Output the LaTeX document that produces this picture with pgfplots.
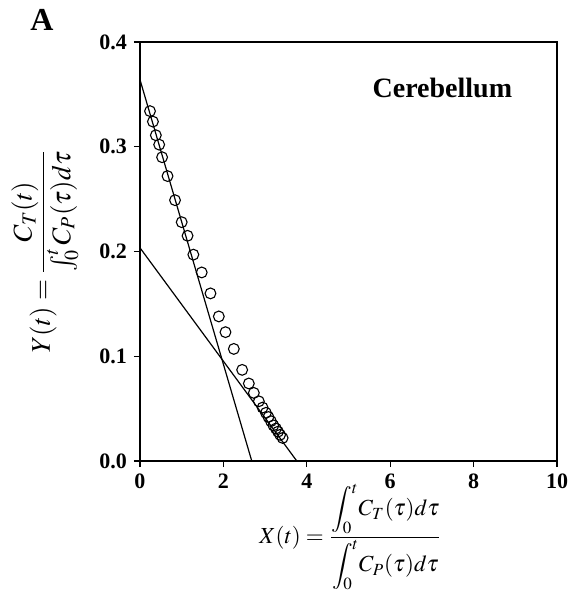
\documentclass[border=0pt]{standalone}
\usepackage{amsmath}
\usepackage{mathptmx}
\usepackage{fontspec}
\setmainfont{Liberation Serif}
\usepackage{pgfplots}
\pgfplotsset{compat=1.18}
\begin{document}
\begin{tikzpicture}
\begin{axis}[
  scale only axis,
  width=208.5pt, height=209.5pt,
  xmin=0, xmax=10, ymin=0, ymax=0.4,
  xtick={0,2,4,6,8,10},
  ytick={0,0.1,0.2,0.3,0.4},
  tick align=outside,
  xtick pos=bottom, ytick pos=left,
  major tick length=3pt,
  axis line style={line width=0.6pt},
  every tick/.style={line width=0.6pt, black},
  /pgf/number format/assume math mode=true,
  yticklabel style={/pgf/number format/.cd, fixed, fixed zerofill, precision=1},
  tick label style={font=\fontsize{11}{13}\selectfont\bfseries},
  clip=false,
  xlabel={\fontsize{11.5}{13}\selectfont $X(t)=\dfrac{\displaystyle\int_0^t\! C_T(\tau)d\tau}{\displaystyle\int_0^t\! C_P(\tau)d\tau}$},
  xlabel style={at={(axis description cs:0.505,-0.182)}, anchor=center},
  ylabel={\fontsize{13.5}{15}\selectfont $Y(t)=\dfrac{C_T(t)}{\textstyle\int_0^t C_P(\tau)d\tau}$},
  ylabel style={at={(axis description cs:-0.228,0.5)}, anchor=center},
]
\addplot[black, line width=0.6pt] coordinates {(0,0.364) (2.68,0)};
\addplot[black, line width=0.6pt] coordinates {(0,0.2035) (3.76,0)};
\addplot[only marks, mark=o, mark size=2.7pt, mark options={line width=0.55pt, black}] coordinates {
(0.24,0.334) (0.31,0.324) (0.38,0.311) (0.46,0.302) (0.53,0.290)
(0.66,0.272) (0.84,0.249) (1.00,0.228) (1.14,0.215) (1.28,0.197)
(1.48,0.180) (1.69,0.160) (1.89,0.138) (2.05,0.123) (2.25,0.107)
(2.45,0.087) (2.61,0.074) (2.73,0.065) (2.85,0.057) (2.94,0.051)
(3.02,0.046) (3.08,0.042) (3.14,0.038) (3.20,0.034) (3.26,0.031)
(3.31,0.028) (3.36,0.025) (3.42,0.022)
};
\node[font=\fontsize{14}{16}\selectfont\bfseries] at (axis cs:7.25,0.356) {Cerebellum};
\node[font=\fontsize{16}{18}\selectfont\bfseries] at ([xshift=-49pt,yshift=11pt]rel axis cs:0,1) {A};
\coordinate (bl) at (rel axis cs:0,0);
\coordinate (tr) at (rel axis cs:1,1);
\end{axis}
\pgfresetboundingbox
\path ([xshift=-70pt,yshift=-65pt]bl) rectangle ([xshift=11pt,yshift=21pt]tr);
\end{tikzpicture}
\end{document}
